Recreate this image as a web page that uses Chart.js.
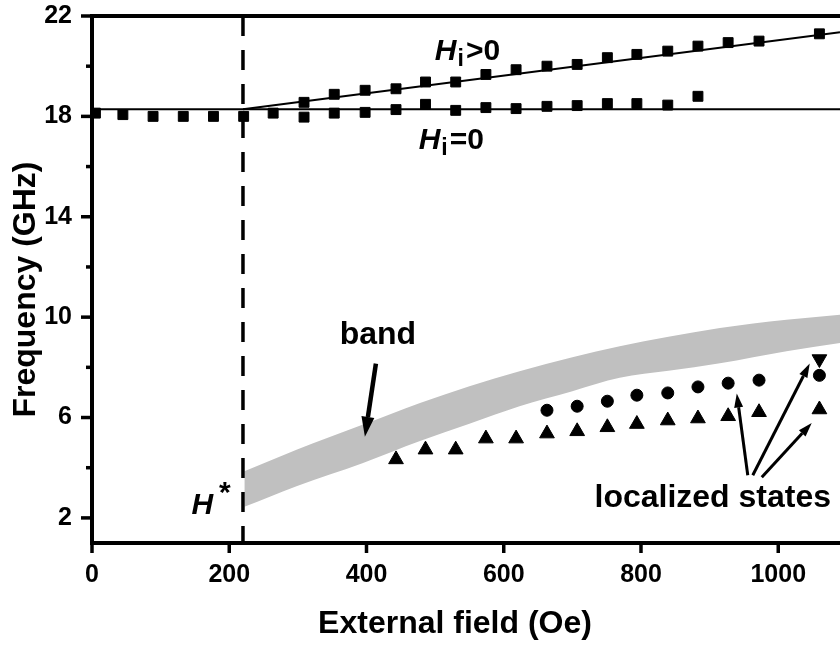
<!DOCTYPE html>
<html>
<head>
<meta charset="utf-8">
<script src="https://cdn.jsdelivr.net/npm/chart.js@4.4.1/dist/chart.umd.min.js"></script>
<style>
  html, body { margin: 0; padding: 0; background: #fff; }
  #wrap { width: 840px; height: 648px; }
</style>
</head>
<body>
<div id="wrap"><canvas id="chart" width="840" height="648"></canvas></div>
<script>
// measured points, field in Oe, frequency in GHz
const fieldLow = [5, 45, 89, 133, 177, 221, 264, 309, 353, 398, 443, 486, 530, 574, 618, 663, 707, 751, 794, 839, 883];
const freqLow = [18.13, 18.07, 18.0, 18.0, 18.0, 18.0, 18.13, 17.97, 18.13, 18.16, 18.27, 18.48, 18.24, 18.35, 18.31, 18.4, 18.43, 18.51, 18.51, 18.45, 18.8];

const fieldHigh = [309, 353, 398, 443, 486, 530, 574, 618, 663, 707, 751, 794, 839, 883, 927, 972, 1060];
const freqHigh = [18.56, 18.88, 19.04, 19.1, 19.37, 19.37, 19.67, 19.86, 20.0, 20.07, 20.34, 20.47, 20.6, 20.8, 20.94, 21.0, 21.29];

const fieldTri = [443, 486, 530, 574, 618, 663, 707, 751, 794, 839, 883, 927, 972, 1060];
const freqTri = [4.33, 4.72, 4.72, 5.16, 5.16, 5.36, 5.45, 5.61, 5.74, 5.88, 5.96, 6.05, 6.21, 6.32];

const fieldCirc = [663, 707, 751, 794, 839, 883, 927, 972, 1060];
const freqCirc = [6.29, 6.45, 6.65, 6.89, 6.98, 7.22, 7.37, 7.49, 7.68];

const fieldDown = [1060];
const freqDown = [8.33];

// grey band (edges)
const bandField = [222, 298, 395, 478, 550, 623, 700, 769, 840, 915, 1012, 1090];
const bandTop = [3.86, 4.72, 5.72, 6.58, 7.25, 7.84, 8.4, 8.84, 9.22, 9.57, 9.9, 10.1];
const bandBottom = [2.44, 3.26, 4.19, 5.06, 5.75, 6.45, 7.05, 7.58, 7.86, 8.16, 8.64, 8.97];

// fitted lines
const hStar = 220;
const hiZeroFreq = 18.28;
const hiPosEnd = [1090, 21.35];

// axes
const xMin = 0, xMax = 1090, yMin = 1, yMax = 22;
const xTicks = [0, 200, 400, 600, 800, 1000];
const yTicks = [2, 6, 10, 14, 18, 22];
const yMinorTicks = [4, 8, 12, 16, 20];

const FONT = '"Liberation Sans", Arial, sans-serif';

const pts = (xs, ys) => xs.map((v, i) => ({ x: v, y: ys[i] }));

function arrow(ctx, x1, y1, x2, y2, lw, hl, hw) {
  const ang = Math.atan2(y2 - y1, x2 - x1);
  const bx = x2 - hl * Math.cos(ang), by = y2 - hl * Math.sin(ang);
  ctx.lineWidth = lw;
  ctx.beginPath(); ctx.moveTo(x1, y1); ctx.lineTo(bx, by); ctx.stroke();
  ctx.beginPath();
  ctx.moveTo(x2, y2);
  ctx.lineTo(bx + hw / 2 * Math.sin(ang), by - hw / 2 * Math.cos(ang));
  ctx.lineTo(bx - hw / 2 * Math.sin(ang), by + hw / 2 * Math.cos(ang));
  ctx.closePath(); ctx.fill();
}

const extras = {
  id: 'extras',
  afterDraw(chart) {
    const { ctx, chartArea: a, scales: { x, y } } = chart;
    const X = v => x.getPixelForValue(v), Y = v => y.getPixelForValue(v);
    ctx.save();
    ctx.strokeStyle = '#000'; ctx.fillStyle = '#000'; ctx.lineCap = 'butt';

    // top frame
    ctx.lineWidth = 4;
    ctx.beginPath(); ctx.moveTo(a.left - 2, a.top); ctx.lineTo(a.right, a.top); ctx.stroke();

    // tick marks
    ctx.lineWidth = 3.5;
    yTicks.forEach(v => { ctx.beginPath(); ctx.moveTo(a.left - 11, Y(v)); ctx.lineTo(a.left, Y(v)); ctx.stroke(); });
    yMinorTicks.forEach(v => { ctx.beginPath(); ctx.moveTo(a.left - 6, Y(v)); ctx.lineTo(a.left, Y(v)); ctx.stroke(); });
    xTicks.forEach(v => { ctx.beginPath(); ctx.moveTo(X(v), a.bottom); ctx.lineTo(X(v), a.bottom + 10); ctx.stroke(); });

    // axis titles
    ctx.font = 'bold 32px ' + FONT;
    ctx.textAlign = 'center'; ctx.textBaseline = 'alphabetic';
    ctx.fillText('External field (Oe)', X(529), a.bottom + 90);
    ctx.save();
    ctx.translate(a.left - 57, Y(11.1));
    ctx.rotate(-Math.PI / 2);
    ctx.fillText('Frequency (GHz)', 0, 0);
    ctx.restore();

    // H_i labels
    const hi = (xv, yv, rest) => {
      let px = X(xv); const py = Y(yv);
      ctx.textAlign = 'left';
      ctx.font = 'italic bold 30px ' + FONT;
      ctx.fillText('H', px, py); px += ctx.measureText('H').width + 1;
      ctx.font = 'bold 23px ' + FONT;
      ctx.fillText('i', px, py + 6); px += ctx.measureText('i').width + 2;
      ctx.font = 'bold 30px ' + FONT;
      ctx.fillText(rest, px, py);
    };
    hi(499.6, 20.24, '>0');
    hi(476, 16.72, '=0');

    // H* label
    ctx.textAlign = 'left';
    ctx.font = 'italic bold 30px ' + FONT;
    ctx.fillText('H', X(145), Y(2.14));
    ctx.font = 'bold 30px ' + FONT;
    ctx.fillText('*', X(185), Y(2.62));

    // band / localized states labels
    ctx.textAlign = 'center';
    ctx.font = 'bold 32px ' + FONT;
    ctx.fillText('band', X(416.6), Y(8.92));
    ctx.fillText('localized states', X(904.6), Y(2.43));

    // arrows
    arrow(ctx, X(413.7), Y(8.15), X(397.7), Y(5.23), 4.5, 20, 13);
    arrow(ctx, X(955.6), Y(3.70), X(939.6), Y(6.96), 3, 14, 9);
    arrow(ctx, X(962.9), Y(3.70), X(1045.9), Y(8.15), 3, 14, 9);
    arrow(ctx, X(976), Y(3.62), X(1048.8), Y(5.78), 3, 14, 9);
    ctx.restore();
  }
};

const markerBase = { showLine: false, backgroundColor: '#000', borderColor: '#000', borderWidth: 1, order: 0 };

new Chart(document.getElementById('chart'), {
  type: 'scatter',
  data: {
    datasets: [
      { ...markerBase, data: pts(fieldLow, freqLow), pointStyle: 'rect', pointRadius: 7 },
      { ...markerBase, data: pts(fieldHigh, freqHigh), pointStyle: 'rect', pointRadius: 7 },
      { ...markerBase, data: pts(fieldTri, freqTri), pointStyle: 'triangle', pointRadius: 8.5 },
      { ...markerBase, data: pts(fieldCirc, freqCirc), pointStyle: 'circle', pointRadius: 6 },
      { ...markerBase, data: pts(fieldDown, freqDown), pointStyle: 'triangle', pointRotation: 180, pointRadius: 8.5 },
      { data: [{ x: xMin, y: hiZeroFreq }, { x: xMax, y: hiZeroFreq }], showLine: true, pointRadius: 0,
        borderColor: '#000', borderWidth: 2, order: 5 },
      { data: [{ x: hStar, y: hiZeroFreq }, { x: hiPosEnd[0], y: hiPosEnd[1] }], showLine: true, pointRadius: 0,
        borderColor: '#000', borderWidth: 2, order: 5 },
      { data: [{ x: hStar, y: yMax }, { x: hStar, y: yMin }], showLine: true, pointRadius: 0,
        borderColor: '#000', borderWidth: 3.5, borderDash: [20, 14], order: 4 },
      { data: pts(bandField, bandBottom), showLine: true, pointRadius: 0, borderWidth: 0,
        borderColor: 'rgba(0,0,0,0)', cubicInterpolationMode: 'monotone', fill: false, order: 10 },
      { data: pts(bandField, bandTop), showLine: true, pointRadius: 0, borderWidth: 0,
        borderColor: 'rgba(0,0,0,0)', backgroundColor: '#c0c0c0', cubicInterpolationMode: 'monotone', fill: '-1', order: 10 }
    ]
  },
  options: {
    responsive: false,
    animation: false,
    layout: { autoPadding: false, padding: { top: 16, right: 0, left: 0, bottom: 0 } },
    plugins: { legend: { display: false }, tooltip: { enabled: false } },
    scales: {
      x: {
        type: 'linear', min: xMin, max: xMax,
        afterBuildTicks: s => { s.ticks = xTicks.map(v => ({ value: v })); },
        afterFit: s => { s.height = 105; s.paddingLeft = 0; s.paddingRight = 0; },
        grid: { display: false, drawTicks: false },
        border: { display: true, color: '#000', width: 4 },
        ticks: { color: '#000', padding: 17, font: { family: FONT, size: 25, weight: 'bold' }, callback: v => String(v) }
      },
      y: {
        type: 'linear', min: yMin, max: yMax,
        afterBuildTicks: s => { s.ticks = yTicks.map(v => ({ value: v })); },
        afterFit: s => { s.width = 92; s.paddingTop = 0; s.paddingBottom = 0; },
        grid: { display: false, drawTicks: false },
        border: { display: true, color: '#000', width: 4 },
        ticks: { color: '#000', padding: 20, font: { family: FONT, size: 25, weight: 'bold' }, callback: v => String(v) }
      }
    }
  },
  plugins: [extras]
});
</script>
</body>
</html>
